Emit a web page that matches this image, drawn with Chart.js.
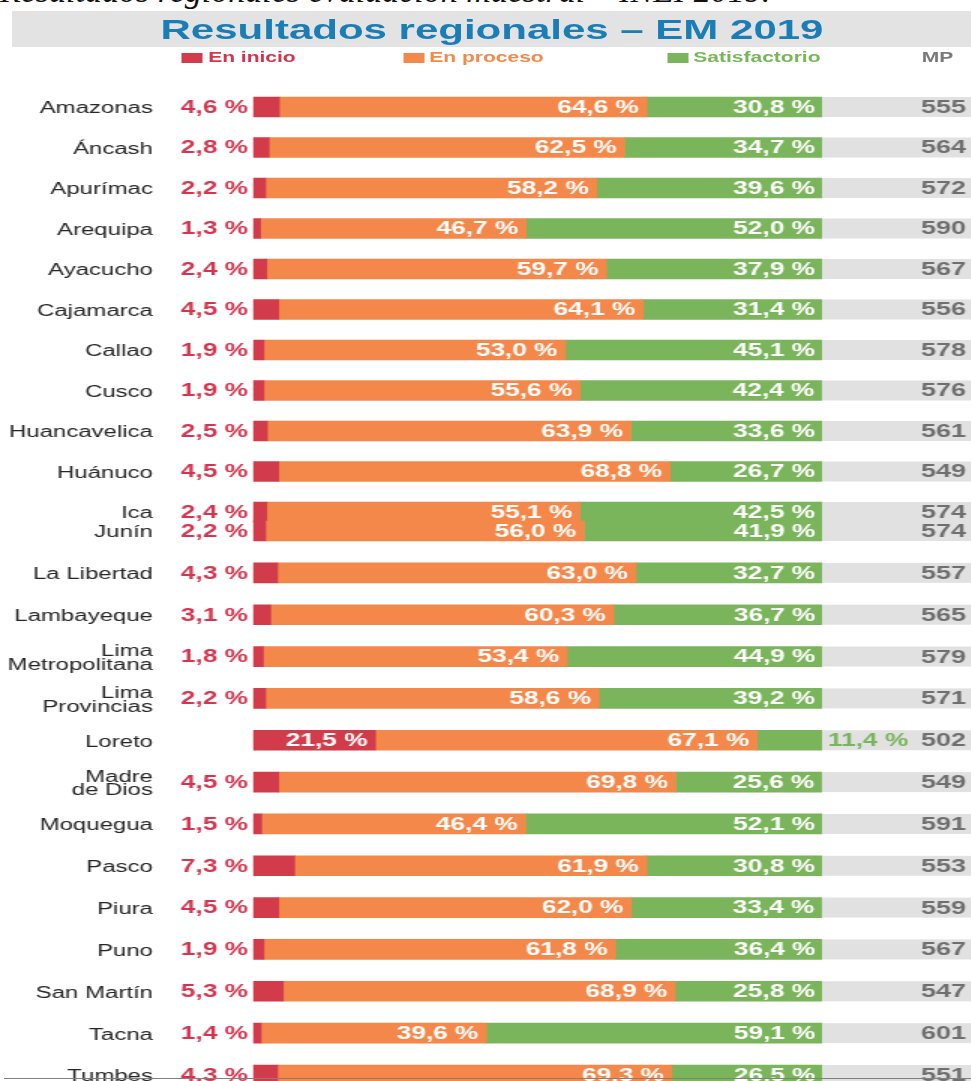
<!DOCTYPE html>
<html>
<head>
<meta charset="utf-8">
<script src="https://cdn.jsdelivr.net/npm/chart.js@4.4.1/dist/chart.umd.min.js"></script>
<style>
  html, body { margin: 0; padding: 0; background: #fff; width: 971px; height: 1081px; overflow: hidden; }
  #caption { position: absolute; left: 0; top: -26px; font: italic 34px "Liberation Serif", serif; line-height: 34px; white-space: nowrap; color: #111; }
  /* the source picture is stretched sideways, so everything is drawn narrow and scaled */
  #stage { position: absolute; left: 0; top: 0; width: 648px; height: 1100px; transform: scaleX(1.5); transform-origin: 0 0; font-family: "Liberation Sans", Arial, sans-serif; }
  #band { position: absolute; left: 7.5px; top: 11px; width: 641px; height: 36px; background: #e3e3e4; text-align: center; line-height: 38px; font-weight: bold; font-size: 28px; color: #1a7db6; }
  .key { position: absolute; top: 49px; font-weight: bold; font-size: 14px; line-height: 17px; white-space: nowrap; }
  .key i { display: inline-block; width: 14px; height: 10px; margin-right: 3.5px; vertical-align: -1px; }
  canvas { position: absolute; left: 0; }
  #rule { position: absolute; left: 4px; top: 1078px; width: 967px; height: 1px; background: #808080; }
</style>
</head>
<body>
<div id="caption">Resultados regionales evaluación muestral – INEI 2019.</div>
<div id="stage">
  <div id="band">Resultados regionales – EM 2019</div>
  <div class="key" style="left:121.3px;color:#d5344e"><i style="background:#d23b4a"></i>En inicio</div>
  <div class="key" style="left:268.7px;color:#f5894a"><i style="background:#f4884a"></i>En proceso</div>
  <div class="key" style="left:444.7px;color:#79b55a"><i style="background:#7ab55b"></i>Satisfactorio</div>
  <div class="key" style="left:614.5px;color:#7a7a7a">MP</div>
  <canvas id="chartTop" width="648" height="535" style="top:0"></canvas>
  <canvas id="chartBottom" width="648" height="610" style="top:490px"></canvas>
</div>
<div id="rule"></div>
<script>
const regions = ["Amazonas", "Áncash", "Apurímac", "Arequipa", "Ayacucho", "Cajamarca", "Callao", "Cusco",
  "Huancavelica", "Huánuco", "Ica", "Junín", "La Libertad", "Lambayeque", ["Lima", "Metropolitana"],
  ["Lima", "Provincias"], "Loreto", ["Madre", "de Dios"], "Moquegua", "Pasco", "Piura", "Puno",
  "San Martín", "Tacna", "Tumbes"];
const enInicio = [4.6, 2.8, 2.2, 1.3, 2.4, 4.5, 1.9, 1.9, 2.5, 4.5, 2.4, 2.2, 4.3, 3.1, 1.8, 2.2, 21.5, 4.5, 1.5, 7.3, 4.5, 1.9, 5.3, 1.4, 4.3];
const enProceso = [64.6, 62.5, 58.2, 46.7, 59.7, 64.1, 53.0, 55.6, 63.9, 68.8, 55.1, 56.0, 63.0, 60.3, 53.4, 58.6, 67.1, 69.8, 46.4, 61.9, 62.0, 61.8, 68.9, 39.6, 69.3];
const satisfactorio = [30.8, 34.7, 39.6, 52.0, 37.9, 31.4, 45.1, 42.4, 33.6, 26.7, 42.5, 41.9, 32.7, 36.7, 44.9, 39.2, 11.4, 25.6, 52.1, 30.8, 33.4, 36.4, 25.8, 59.1, 26.5];
const mp = [555, 564, 572, 590, 567, 556, 578, 576, 561, 549, 574, 574, 557, 565, 579, 571, 502, 549, 591, 553, 559, 567, 547, 601, 551];

const RED = "#d23b4a", ORANGE = "#f4884a", GREEN = "#7ab55b";
const fmt = (v) => v.toFixed(1).replace(".", ",") + " %";

const rowLabels = {
  id: "rowLabels",
  beforeDatasetsDraw(chart) {
    const { ctx, scales: { x } } = chart;
    const x100 = x.getPixelForValue(100);
    ctx.save();
    ctx.fillStyle = "#e1e1e2";
    chart.getDatasetMeta(0).data.forEach((bar) => {
      ctx.fillRect(x100, bar.y - bar.height / 2, chart.width - x100, bar.height);
    });
    ctx.restore();
  },
  afterDatasetsDraw(chart, args, opts) {
    const { ctx, chartArea } = chart;
    const reds = chart.getDatasetMeta(0).data;
    const oranges = chart.getDatasetMeta(1).data;
    const greens = chart.getDatasetMeta(2).data;
    const valueFont = 'bold 17.5px "Liberation Sans", Arial, sans-serif';
    ctx.save();
    ctx.textBaseline = "middle";
    reds.forEach((bar, i) => {
      const k = opts.start + i;
      const y = bar.y + 1;
      ctx.font = valueFont;
      // en inicio
      ctx.textAlign = "right";
      if (enInicio[k] >= 10) {
        ctx.fillStyle = "#fff";
        ctx.fillText(fmt(enInicio[k]), bar.x - 5.3, y);
      } else {
        ctx.fillStyle = "#d5344e";
        ctx.fillText(fmt(enInicio[k]), chartArea.left - 3.4, y);
      }
      // en proceso
      ctx.fillStyle = "#fff";
      ctx.fillText(fmt(enProceso[k]), oranges[i].x - 5.3, y);
      // satisfactorio
      if (satisfactorio[k] < 15) {
        ctx.textAlign = "left";
        ctx.fillStyle = "#79b55a";
        ctx.fillText(fmt(satisfactorio[k]), greens[i].x + 4, y);
      } else {
        ctx.fillText(fmt(satisfactorio[k]), greens[i].x - 4.7, y);
      }
      // MP
      ctx.textAlign = "right";
      ctx.fillStyle = "#6f6f6f";
      ctx.font = 'bold 18px "Liberation Sans", Arial, sans-serif';
      ctx.fillText(String(mp[k]), chart.width - 4, y);
    });
    ctx.restore();
  },
};

const createRegionChart = (id, from, to, padTop, padBottom) => {
  new Chart(document.getElementById(id), {
    type: "bar",
    data: {
      labels: regions.slice(from, to),
      datasets: [
        { label: "En inicio", data: enInicio.slice(from, to), backgroundColor: RED },
        { label: "En proceso", data: enProceso.slice(from, to), backgroundColor: ORANGE },
        { label: "Satisfactorio", data: satisfactorio.slice(from, to), backgroundColor: GREEN },
      ],
    },
    options: {
      indexAxis: "y",
      responsive: false,
      animation: false,
      devicePixelRatio: 1,
      datasets: { bar: { barThickness: 20, borderWidth: 0 } },
      layout: { padding: { top: padTop, bottom: padBottom, left: 0, right: 100 } },
      scales: {
        x: { stacked: true, min: 0, max: 100, display: false },
        y: {
          stacked: true,
          // tick marks hidden, their length only pushes the names left of the bars
          grid: { display: false, drawTicks: true, tickLength: 66.7 },
          border: { display: false },
          ticks: {
            padding: 0,
            labelOffset: 2,
            color: "#252525",
            font: { family: '"Liberation Sans", Arial, sans-serif', size: 16, lineHeight: 0.85 },
          },
          afterFit: (scale) => {
            scale.width = 168.7;
            scale.paddingTop = 0;
            scale.paddingBottom = 0;
          },
        },
      },
      plugins: {
        legend: { display: false },
        tooltip: { enabled: false },
        rowLabels: { start: from },
      },
    },
    plugins: [rowLabels],
  });
};

createRegionChart("chartTop", 0, 11, 86.75, 2.75);
createRegionChart("chartBottom", 11, 25, 20.1, 4.1);
</script>
</body>
</html>
